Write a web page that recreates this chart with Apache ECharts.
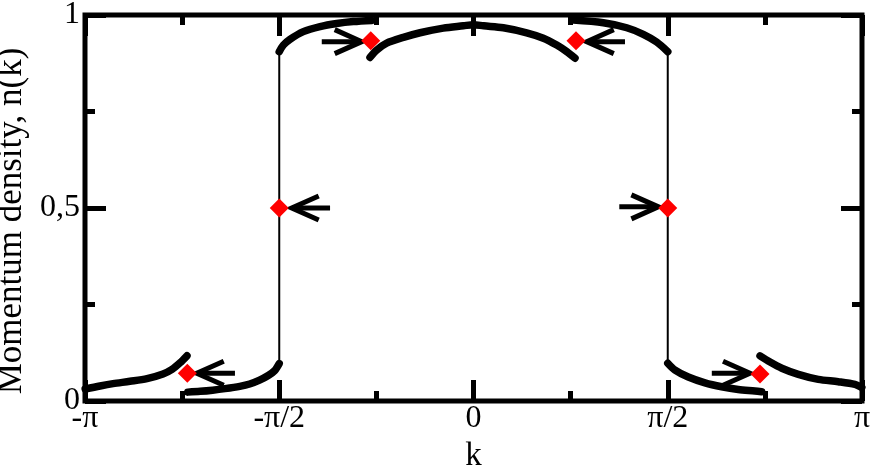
<!DOCTYPE html>
<html>
<head>
<meta charset="utf-8">
<script src="https://cdn.jsdelivr.net/npm/echarts@6/dist/echarts.min.js"></script>
<style>html,body{margin:0;padding:0;background:#fff;}#c{width:872px;height:465px;}</style>
</head>
<body>
<div id="c"></div>
<script>
// ---- data ----
var xTickLabels = ['-π', '-π/2', '0', 'π/2', 'π'];
var yTickLabels = ['0', '0,5', '1'];

// thick curve segments [k, n(k)]
var segA = [[-3.14,0.031],[-3.02,0.039],[-2.915,0.045],[-2.778,0.051],[-2.64,0.058],[-2.511,0.070],[-2.438,0.082],[-2.373,0.099],[-2.317,0.117]];
var segB = [[-2.31,0.023],[-2.21,0.025],[-2.11,0.028],[-2.01,0.032],[-1.89,0.038],[-1.81,0.044],[-1.73,0.054],[-1.66,0.066],[-1.61,0.078],[-1.571,0.097]];
var segC = [[-1.571,0.905],[-1.538,0.922],[-1.484,0.937],[-1.376,0.957],[-1.241,0.970],[-1.106,0.978],[-0.972,0.983],[-0.821,0.986]];
var segD = [[-0.837,0.890],[-0.783,0.909],[-0.702,0.927],[-0.567,0.942],[-0.432,0.954],[-0.244,0.966],[-0.082,0.972],[0,0.975],[0.082,0.972],[0.241,0.967],[0.430,0.954],[0.565,0.940],[0.673,0.922],[0.754,0.905],[0.821,0.888]];
var segE = [[0.807,0.987],[1.050,0.980],[1.239,0.967],[1.373,0.950],[1.481,0.930],[1.571,0.905]];
var segF = [[1.571,0.098],[1.630,0.080],[1.737,0.062],[1.872,0.047],[2.007,0.037],[2.141,0.030],[2.276,0.026],[2.330,0.024]];
var segG = [[2.317,0.117],[2.398,0.101],[2.493,0.085],[2.627,0.069],[2.788,0.056],[2.950,0.050],[3.085,0.043],[3.14,0.035]];

// thin vertical jumps at the Fermi points
var jumpL = [[-1.5708,0.097],[-1.5708,0.905]];
var jumpR = [[1.5708,0.905],[1.5708,0.098]];

// red diamonds
var diamonds = [[-2.314,0.072],[-1.5708,0.5],[-0.831,0.933],[0.829,0.933],[1.5708,0.5],[2.317,0.070]];

// arrows: [tipK, tipN, tailK, tailN]
var arrows = [
  [-2.238,0.072,-1.929,0.072],
  [-1.470,0.500,-1.160,0.500],
  [-0.904,0.931,-1.227,0.931],
  [0.916,0.931,1.225,0.931],
  [1.495,0.503,1.179,0.503],
  [2.236,0.072,1.927,0.072]
];

var FONT = 'Liberation Serif';
var chart = echarts.init(document.getElementById('c'), null, {renderer:'canvas'});

function curve(d){
  return {type:'line', data:d, xAxisIndex:0, yAxisIndex:0, showSymbol:false, symbol:'none',
    smooth:0.3, lineStyle:{color:'#000', width:7.5, cap:'round', join:'round'}, z:3, silent:true, animation:false};
}
function thin(d){
  return {type:'line', data:d, xAxisIndex:0, yAxisIndex:0, showSymbol:false, symbol:'none',
    lineStyle:{color:'#000', width:2}, z:2, silent:true, animation:false};
}

var tickCommon = {show:true, inside:true, length:21, lineStyle:{color:'#000', width:5}};
var minorCommon = {show:true, splitNumber:2, length:10, lineStyle:{color:'#000', width:5}};
var noLine = {show:false, onZero:false};

var option = {
  animation:false,
  backgroundColor:'#fff',
  grid:{left:85, right:10, top:15, bottom:64, show:true, borderColor:'#000', borderWidth:5, backgroundColor:'transparent', containLabel:false, outerBoundsMode:'none'},
  xAxis:[
    {type:'value', min:-Math.PI, max:Math.PI, interval:Math.PI/2, position:'bottom',
     axisLine:noLine, splitLine:{show:false},
     axisTick:tickCommon, minorTick:minorCommon,
     axisLabel:{show:true, margin:2, color:'#000', fontFamily:FONT, fontSize:32,
       formatter:function(v){ var i=Math.round(v/(Math.PI/2))+2; return xTickLabels[i]||''; }},
     name:'k', nameLocation:'middle', nameGap:39, nameMoveOverlap:false,
     nameTextStyle:{color:'#000', fontFamily:FONT, fontSize:33}},
    {type:'value', min:-Math.PI, max:Math.PI, interval:Math.PI/2, position:'top',
     axisLine:noLine, splitLine:{show:false},
     axisTick:tickCommon, minorTick:minorCommon, axisLabel:{show:false}}
  ],
  yAxis:[
    {type:'value', min:0, max:1, interval:0.5, position:'left',
     axisLine:noLine, splitLine:{show:false},
     axisTick:tickCommon, minorTick:minorCommon,
     axisLabel:{show:true, margin:5, color:'#000', fontFamily:FONT, fontSize:32,
       formatter:function(v){ var i=Math.round(v*2); return yTickLabels[i]||''; }},
     name:'Momentum density, n(k)', nameLocation:'middle', nameGap:56, nameMoveOverlap:false,
     nameTextStyle:{color:'#000', fontFamily:FONT, fontSize:35, padding:[0,26,0,0]}},
    {type:'value', min:0, max:1, interval:0.5, position:'right',
     axisLine:noLine, splitLine:{show:false},
     axisTick:tickCommon, minorTick:minorCommon, axisLabel:{show:false}}
  ],
  series:[
    thin(jumpL), thin(jumpR),
    curve(segA), curve(segB), curve(segC), curve(segD), curve(segE), curve(segF), curve(segG),
    {type:'custom', xAxisIndex:0, yAxisIndex:0, data:arrows, encode:{x:[0,2], y:[1,3]}, z:4, silent:true, animation:false,
     renderItem:function(params, api){
       var tip = api.coord([api.value(0), api.value(1)]);
       var tail = api.coord([api.value(2), api.value(3)]);
       var dx = tail[0]-tip[0], dy = tail[1]-tip[1];
       var len = Math.sqrt(dx*dx+dy*dy) || 1;
       var ux = dx/len, uy = dy/len, px = -uy, py = ux;
       var L = 27, W = 12;
       var a1 = [tip[0]+ux*L+px*W, tip[1]+uy*L+py*W];
       var a2 = [tip[0]+ux*L-px*W, tip[1]+uy*L-py*W];
       var st = {stroke:'#000', lineWidth:5, fill:null, lineJoin:'miter', lineCap:'butt'};
       return {type:'group', children:[
         {type:'line', shape:{x1:tip[0]+ux*2, y1:tip[1]+uy*2, x2:tail[0], y2:tail[1]}, style:st},
         {type:'polyline', shape:{points:[a1, tip, a2]}, style:st}
       ]};
     }},
    {type:'scatter', xAxisIndex:0, yAxisIndex:0, data:diamonds, symbol:'diamond', symbolSize:[19,19],
     itemStyle:{color:'#ff0000', opacity:1}, z:5, silent:true, animation:false}
  ]
};
chart.setOption(option);
</script>
</body>
</html>
